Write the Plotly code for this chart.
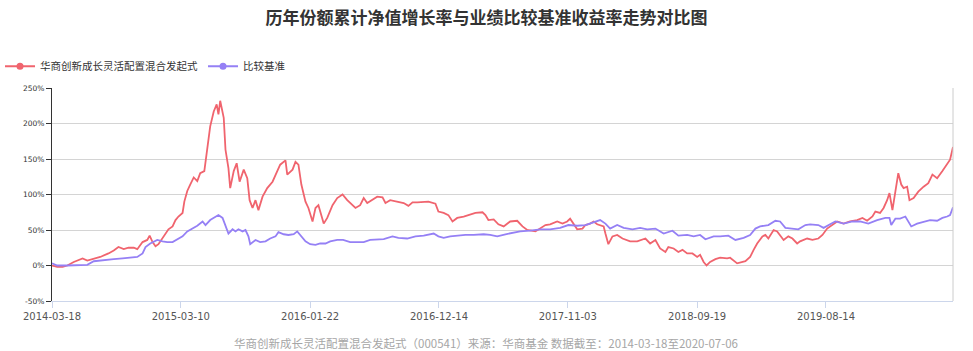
import plotly.graph_objects as go

title_text = "历年份额累计净值增长率与业绩比较基准收益率走势对比图"
fund_name = "华商创新成长灵活配置混合发起式"
bench_name = "比较基准"
footer_text = "华商创新成长灵活配置混合发起式（000541）来源：华商基金 数据截至：2014-03-18至2020-07-06"

# trading-day index of the tick labels and the labels themselves
tick_idx = [0, 219, 439, 658, 877, 1097, 1316]
tick_labels = ["2014-03-18", "2015-03-10", "2016-01-22", "2016-12-14", "2017-11-03", "2018-09-19", "2019-08-14"]
y_ticks = [-50, 0, 50, 100, 150, 200, 250]
y_tick_labels = ["-50%", "0%", "50%", "100%", "150%", "200%", "250%"]

# fund cumulative NAV growth (%)
fund_idx = [0, 9, 18, 26, 37, 52, 60, 71, 82, 96, 105, 113, 122, 130, 139, 145, 154, 162, 166, 171,
            176, 181, 190, 198, 205, 210, 215, 222, 225, 230, 235, 241, 247, 252, 259, 264, 269, 275, 280, 283,
            286, 292, 295, 300, 303, 309, 314, 319, 326, 332, 336, 341, 346, 351, 358, 366, 375, 383, 388, 397,
            400, 409, 414, 419, 424, 431, 436, 443, 448, 453, 462, 468, 477, 485, 494, 502, 511, 516, 524, 530,
            536, 545, 553, 562, 567, 575, 587, 598, 606, 613, 621, 632, 640, 652, 657, 666, 674, 681, 689, 700,
            711, 720, 732, 737, 742, 751, 759, 768, 779, 791, 800, 808, 822, 830, 839, 847, 859, 868, 876, 881,
            887, 893, 902, 907, 915, 921, 927, 938, 941, 944, 946, 953, 961, 970, 983, 995, 1009, 1017, 1026, 1034,
            1043, 1048, 1057, 1065, 1072, 1080, 1089, 1097, 1102, 1108, 1113, 1119, 1128, 1136, 1148, 1153, 1165, 1179, 1187, 1193,
            1199, 1208, 1213, 1218, 1227, 1233, 1238, 1244, 1252, 1259, 1267, 1272, 1284, 1293, 1303, 1310, 1318, 1327, 1335, 1346,
            1357, 1369, 1378, 1386, 1395, 1400, 1408, 1414, 1420, 1424, 1429, 1434, 1439, 1444, 1448, 1454, 1458, 1465, 1473, 1482,
            1490, 1497, 1505, 1514, 1522, 1527, 1532]
fund_val = [0, -2, -2, 0, 5, 10, 7, 9, 12, 17, 21, 26, 23, 25, 25, 23, 33, 36, 42, 33,
            27, 30, 41, 51, 55, 64, 69, 74, 90, 105, 114, 124, 119, 130, 133, 168, 196, 217, 227, 213,
            232, 208, 163, 137, 109, 133, 144, 118, 135, 123, 92, 81, 92, 78, 97, 109, 118, 133, 142, 148,
            128, 135, 146, 142, 114, 90, 81, 62, 81, 85, 59, 67, 85, 95, 100, 92, 85, 81, 85, 95,
            88, 93, 97, 96, 88, 92, 90, 88, 84, 89, 89, 89, 90, 87, 76, 74, 71, 62, 67, 69,
            72, 74, 75, 71, 64, 65, 58, 55, 62, 63, 55, 50, 48, 52, 57, 58, 62, 59, 62, 66,
            59, 51, 52, 57, 59, 62, 58, 55, 45, 36, 30, 41, 43, 38, 34, 34, 38, 31, 36, 24,
            19, 26, 24, 19, 22, 17, 17, 12, 15, 5, 0, 5, 9, 11, 10, 11, 3, 6, 12, 22,
            31, 41, 43, 38, 50, 48, 43, 36, 41, 38, 31, 34, 38, 36, 38, 43, 52, 57, 62, 59,
            62, 64, 67, 63, 69, 76, 74, 81, 92, 102, 78, 104, 130, 114, 109, 111, 92, 95, 104, 111,
            116, 128, 123, 133, 144, 149, 167]

# benchmark return (%)
bench_idx = [0, 9, 26, 43, 60, 71, 88, 105, 120, 133, 145, 154, 159, 167, 179, 188, 196, 205, 213, 222,
             230, 239, 247, 256, 261, 269, 278, 283, 290, 295, 300, 307, 312, 317, 324, 329, 334, 337, 346, 354,
             363, 371, 380, 385, 394, 402, 411, 417, 422, 431, 439, 448, 456, 465, 473, 485, 495, 507, 519, 530,
             541, 553, 564, 579, 589, 604, 618, 632, 649, 657, 666, 677, 689, 703, 717, 734, 745, 757, 771, 779,
             796, 813, 830, 847, 864, 878, 893, 907, 921, 932, 941, 949, 961, 972, 987, 1000, 1012, 1026, 1040, 1055,
             1065, 1080, 1091, 1102, 1111, 1125, 1136, 1150, 1162, 1176, 1187, 1196, 1204, 1218, 1230, 1238, 1247, 1259, 1269, 1281,
             1289, 1303, 1312, 1323, 1332, 1346, 1361, 1374, 1388, 1403, 1417, 1424, 1427, 1434, 1442, 1451, 1456, 1461, 1471, 1482,
             1493, 1505, 1514, 1522, 1527, 1532]
bench_val = [3, 0, 0, 0, 1, 6, 8, 9, 10, 11, 12, 17, 26, 31, 36, 34, 33, 33, 37, 41,
             48, 52, 56, 62, 57, 64, 69, 71, 67, 57, 45, 51, 48, 51, 48, 50, 41, 30, 36, 33,
             34, 38, 41, 47, 44, 43, 44, 48, 43, 34, 30, 29, 31, 31, 34, 36, 36, 33, 33, 33,
             36, 36, 37, 41, 39, 38, 41, 42, 45, 41, 39, 41, 42, 43, 43, 44, 43, 41, 44, 45,
             48, 49, 51, 51, 53, 57, 56, 57, 61, 64, 59, 52, 57, 53, 51, 53, 51, 52, 45, 49,
             42, 43, 41, 43, 37, 41, 41, 42, 36, 39, 43, 52, 55, 57, 63, 62, 53, 52, 51, 57,
             58, 57, 53, 58, 62, 59, 62, 62, 59, 64, 67, 67, 57, 66, 66, 69, 62, 55, 59, 62,
             64, 63, 67, 69, 71, 82]

RED = "#f0646e"
PURPLE = "#9580f5"
CJK = "Noto Sans CJK SC"

fig = go.Figure()
fig.add_trace(go.Scatter(x=fund_idx, y=fund_val, mode="lines", line=dict(color=RED, width=1.8),
                         name=fund_name, showlegend=False))
fig.add_trace(go.Scatter(x=bench_idx, y=bench_val, mode="lines", line=dict(color=PURPLE, width=1.8),
                         name=bench_name, showlegend=False))
# legend entries (line with a dot, as in the reference)
fig.add_trace(go.Scatter(x=[None], y=[None], mode="lines+markers", name=fund_name,
                         line=dict(color=RED, width=2), marker=dict(color=RED, size=7)))
fig.add_trace(go.Scatter(x=[None], y=[None], mode="lines+markers", name=bench_name,
                         line=dict(color=PURPLE, width=2), marker=dict(color=PURPLE, size=7)))

fig.update_layout(
    width=973, height=351,
    margin=dict(l=52, r=20, t=88, b=50, autoexpand=False),
    paper_bgcolor="white", plot_bgcolor="white",
    title=dict(text="<b>" + title_text + "</b>", x=0.5, xanchor="center", y=0.95, yanchor="middle",
               font=dict(family=CJK, size=17, color="#333333")),
    legend=dict(orientation="h", x=-0.0577, xanchor="left",
                y=1.17, yanchor="top", font=dict(family=CJK, size=10.5, color="#333333"),
                itemwidth=30, bgcolor="rgba(0,0,0,0)"),
    showlegend=True,
    xaxis=dict(range=[0, 1532], tickmode="array", tickvals=tick_idx, ticktext=tick_labels,
               showgrid=False, zeroline=False, showline=True, linecolor="#ccd6eb", linewidth=1,
               ticks="outside", ticklen=6, tickcolor="#ccd6eb",
               tickfont=dict(family="DejaVu Sans", size=10, color="#555555")),
    yaxis=dict(range=[-50, 250], tickmode="array", tickvals=y_ticks, ticktext=y_tick_labels,
               showgrid=True, gridcolor="#d4d4d4", gridwidth=1, zeroline=False,
               showline=True, linecolor="#333333", linewidth=1,
               ticks="outside", ticklen=5, tickcolor="#333333",
               tickfont=dict(family="DejaVu Sans", size=7.5, color="#333333")),
    annotations=[dict(text=footer_text, xref="paper", yref="paper", x=0.4817, y=-0.197,
                      xanchor="center", yanchor="middle", showarrow=False,
                      font=dict(family=CJK, size=11.5, color="#a6a6a6"))],
    shapes=[dict(type="line", xref="paper", yref="paper", x0=1, x1=1, y0=0, y1=1,
                 line=dict(color="#cccccc", width=1))],
)

fig.write_html("out.html")
